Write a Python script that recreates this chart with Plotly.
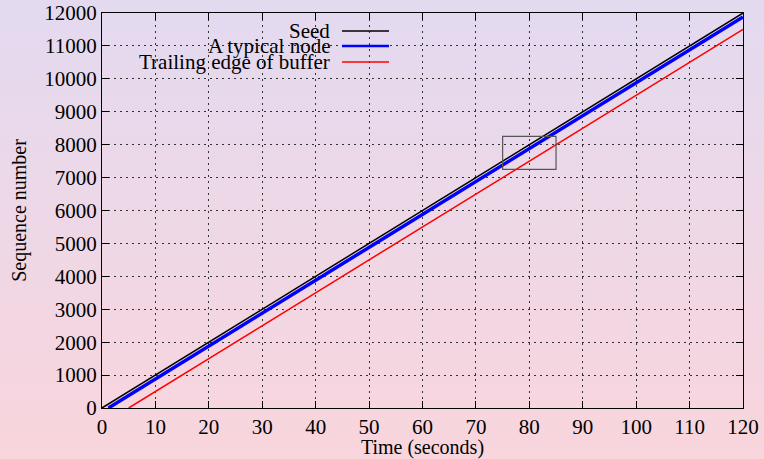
import base64
import plotly.graph_objects as go

# ---- data ----
seed_t = [0, 120]
seed_seq = [0, 12000]

node_t = [1.2, 30, 60, 78.5, 78.8, 90, 120]
node_seq = [0, 2880, 5880, 7730, 7790, 8880, 11880]

trail_t = [5, 120]
trail_seq = [0, 11500]

zoom_box_t = [75, 85]
zoom_box_seq = [7250, 8250]

x_ticks = list(range(0, 121, 10))
y_ticks = list(range(0, 12001, 1000))
x_labels = [str(v) for v in x_ticks]
y_labels = [str(v) for v in y_ticks]

series_names = ["Seed", "A typical node", "Trailing edge of buffer"]
series_colors = ["#000000", "#0000ff", "#ff0000"]
series_widths = [1.5, 3.5, 1.5]

# ---- layout geometry ----
W, H = 764, 459
L, R, T, B = 102, 21, 13, 51
PW, PH = W - L - R, H - T - B
FONT = "Liberation Serif"
FS = 21

fig = go.Figure()
for t, s, name, c, w in zip([seed_t, node_t, trail_t], [seed_seq, node_seq, trail_seq],
                            series_names, series_colors, series_widths):
    fig.add_trace(go.Scatter(x=t, y=s, mode="lines", name=name,
                             line=dict(color=c, width=w), showlegend=False))

fig.add_shape(type="rect", xref="x", yref="y",
              x0=zoom_box_t[0], x1=zoom_box_t[1], y0=zoom_box_seq[0], y1=zoom_box_seq[1],
              line=dict(color="#555555", width=1.2))

svg = ('<svg xmlns="http://www.w3.org/2000/svg" width="10" height="100" preserveAspectRatio="none">'
       '<defs><linearGradient id="g" x1="0" y1="0" x2="0" y2="1">'
       '<stop offset="0" stop-color="#e3daf0"/><stop offset="1" stop-color="#f9d5dc"/>'
       '</linearGradient></defs><rect width="10" height="100" fill="url(#g)"/></svg>')
src = "data:image/svg+xml;base64," + base64.b64encode(svg.encode()).decode()
fig.add_layout_image(dict(source=src, xref="paper", yref="paper",
                          x=-L / PW, y=1 + T / PH, sizex=W / PW, sizey=H / PH,
                          sizing="stretch", layer="below", xanchor="left", yanchor="top"))

# gnuplot-style key: text right-aligned, sample line after it
leg_y = [31, 46, 62]
text_right = 331
for name, c, w, py in zip(series_names, series_colors, series_widths, leg_y):
    yp = (H - B - py) / PH
    fig.add_annotation(xref="paper", yref="paper", x=(text_right - L) / PW, y=yp,
                       text=name, showarrow=False, xanchor="right", yanchor="middle",
                       borderpad=0, font=dict(family=FONT, size=FS, color="#000"))
    fig.add_shape(type="line", xref="paper", yref="paper",
                  x0=(342 - L) / PW, x1=(389 - L) / PW, y0=yp, y1=yp,
                  line=dict(color=c, width=w if w < 3 else 2.5))

axis_common = dict(showline=True, mirror="ticks", linecolor="#000", linewidth=1.2,
                   ticks="inside", ticklen=7, tickcolor="#000", tickwidth=1,
                   showgrid=True, gridcolor="#333", gridwidth=1, griddash="2px,4px",
                   zeroline=False, automargin=False,
                   tickfont=dict(family=FONT, size=FS, color="#000"))

fig.update_layout(
    width=W, height=H,
    margin=dict(l=L, r=R, t=T, b=B),
    paper_bgcolor="#f0d8e8", plot_bgcolor="rgba(0,0,0,0)",
    font=dict(family=FONT, size=FS, color="#000"),
    xaxis=dict(axis_common, range=[0, 120], tickvals=x_ticks, ticktext=x_labels,
               title=dict(text="Time (seconds)", standoff=4, font=dict(family=FONT, size=FS - 1))),
    yaxis=dict(axis_common, range=[0, 12000], tickvals=y_ticks, ticktext=y_labels,
               title=dict(text="Sequence number", standoff=12, font=dict(family=FONT, size=FS - 1))),
)

fig.write_html("out.html", config={"displayModeBar": False},
               post_script="document.body.style.margin='0px';")
